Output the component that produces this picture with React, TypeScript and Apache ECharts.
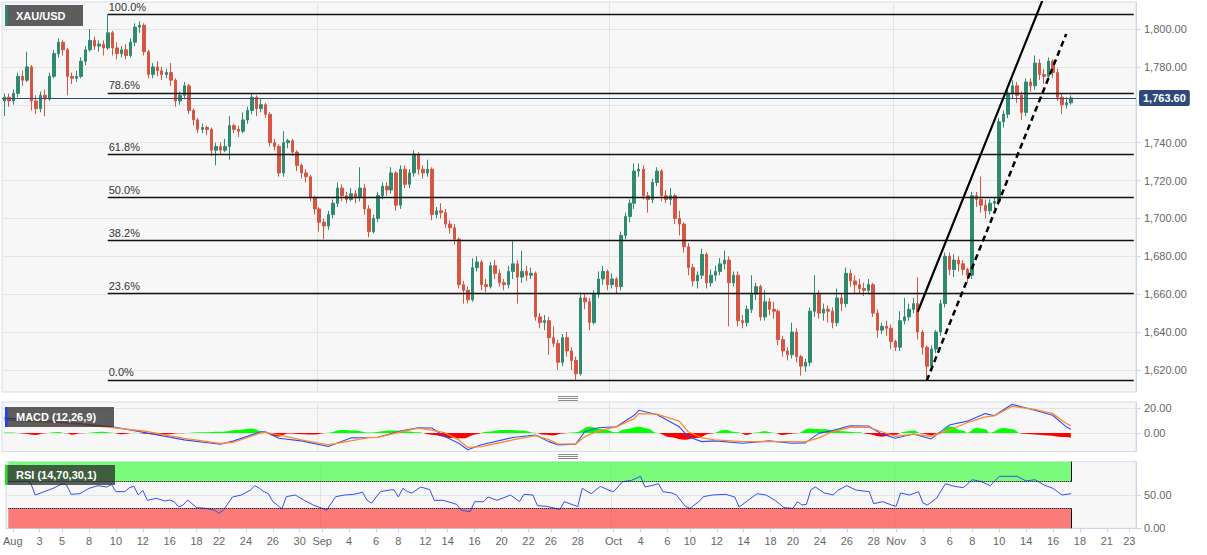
import React, { useEffect, useRef } from 'react';
import * as echarts from 'echarts';

const SLOT_COUNT = 252;

// [open, close, low, high] per slot
const candles = [
  [1762,1764,1754,1766],[1764,1762,1759,1766],[1762,1766,1760,1768],[1766,1775,1764,1777],
  [1775,1773,1770,1778],[1773,1780,1772,1788],[1780,1762,1757,1781],[1762,1758,1755,1765],
  [1758,1765,1756,1767],[1765,1763,1754,1768],[1763,1775,1762,1777],[1775,1787,1774,1789],
  [1787,1793,1785,1795],[1793,1789,1786,1794],[1789,1775,1765,1790],[1775,1774,1771,1777],
  [1774,1775,1772,1778],[1775,1783,1774,1785],[1783,1789,1781,1791],[1789,1794,1788,1800],
  [1794,1791,1789,1796],[1791,1792,1788,1794],[1792,1790,1786,1794],[1790,1798,1789,1807.6],
  [1798,1790,1786,1799],[1790,1787,1784,1793],[1787,1789,1785,1791],[1789,1786,1784,1792],
  [1786,1793,1785,1795],[1793,1801,1791,1803],[1801,1802,1798,1804],[1802,1788,1786,1803],
  [1788,1776,1774,1789],[1776,1780,1774,1782],[1780,1778,1775,1783],[1778,1776,1773,1780],
  [1776,1777,1774,1779],[1777,1773,1770,1782],[1773,1762,1759,1774],[1762,1765,1760,1767],
  [1765,1770,1763,1772],[1770,1757,1755,1771],[1757,1752,1749,1758],[1752,1747,1745,1753],
  [1747,1748,1745,1750],[1748,1747,1744,1749],[1747,1736,1733,1748],[1736,1738,1728,1740],
  [1738,1736,1734,1740],[1736,1738,1735,1742],[1738,1749,1731,1754],[1749,1747,1745,1750],
  [1747,1746,1743,1749],[1746,1752,1745,1756],[1752,1757,1750,1759],[1757,1764,1755,1766],
  [1764,1758,1754,1765],[1758,1760,1756,1763],[1760,1755,1753,1761],[1755,1740,1738,1756],
  [1740,1738,1736,1742],[1738,1724,1722,1739],[1724,1740,1722,1746],[1740,1741,1737,1742],
  [1741,1735,1733,1742],[1735,1728,1725,1736],[1728,1724,1721,1729],[1724,1722,1719,1726],
  [1722,1711,1709,1723],[1711,1705,1702,1712],[1705,1698,1693,1706],[1698,1696,1689,1700],
  [1696,1702,1694,1704],[1702,1708,1700,1710],[1708,1716,1706,1719],[1716,1712,1709,1718],
  [1712,1710,1708,1714],[1710,1713,1709,1716],[1713,1711,1708,1715],[1711,1716,1709,1727],
  [1716,1705,1702,1718],[1705,1693,1690,1707],[1693,1700,1692,1702],[1700,1712,1698,1714],
  [1712,1717,1710,1719],[1717,1715,1712,1719],[1715,1724,1713,1727],[1724,1707,1704,1725],
  [1707,1726,1705,1728],[1726,1718,1716,1728],[1718,1724,1716,1726],[1724,1734,1722,1736],
  [1734,1726,1723,1735],[1726,1724,1721,1728],[1724,1726,1722,1731],[1726,1702,1699,1727],
  [1702,1704,1700,1706],[1704,1703,1700,1708],[1703,1697,1695,1705],[1697,1695,1692,1699],
  [1695,1689,1686,1697],[1689,1665,1663,1690],[1665,1662,1655,1667],[1662,1657,1655,1664],
  [1657,1674,1656,1679],[1674,1677,1672,1680],[1677,1665,1662,1678],[1665,1664,1661,1668],
  [1664,1675,1663,1677],[1675,1671,1668,1678],[1671,1666,1664,1673],[1666,1665,1662,1668],
  [1665,1672,1663,1675],[1672,1676,1668,1688],[1676,1669,1655,1678],[1669,1672,1666,1683],
  [1672,1670,1667,1675],[1670,1671,1668,1674],[1671,1648,1646,1672],[1648,1645,1642,1650],
  [1645,1646,1641,1649],[1646,1637,1628,1648],[1637,1634,1632,1643],[1634,1624,1620,1636],
  [1624,1637,1622,1639],[1637,1630,1627,1640],[1630,1625,1620,1632],[1625,1618,1614.7,1627],
  [1618,1658,1617,1661],[1658,1656,1652,1660],[1656,1645,1641,1658],[1645,1660,1644,1662],
  [1660,1668,1658,1672],[1668,1672,1665,1675],[1672,1665,1662,1673],[1665,1668,1663,1671],
  [1668,1664,1660,1669],[1664,1691,1662,1693],[1691,1701,1689,1703],[1701,1708,1698,1710],
  [1708,1725,1705,1729],[1725,1726,1722,1729],[1726,1712,1710,1728],[1712,1710,1703,1714],
  [1710,1719,1708,1721],[1719,1725,1717,1727],[1725,1712,1709,1726],[1712,1710,1708,1715],
  [1710,1712,1707,1716],[1712,1700,1697,1713],[1700,1697,1691,1704],[1697,1685,1682,1698],
  [1685,1674,1670,1687],[1674,1667,1664,1676],[1667,1670,1663,1672],[1670,1681,1668,1684],
  [1681,1666,1663,1682],[1666,1670,1664,1673],[1670,1672,1667,1675],[1672,1676,1670,1679],
  [1676,1678,1673,1683],[1678,1666,1643,1680],[1666,1670,1664,1672],[1670,1646,1643,1672],
  [1646,1645,1642,1649],[1645,1652,1643,1654],[1652,1660,1650,1670],[1660,1664,1657,1666],
  [1664,1648,1646,1665],[1648,1656,1646,1662],[1656,1652,1649,1658],[1652,1651,1647,1656],
  [1651,1636,1633,1652],[1636,1630,1627,1638],[1630,1628,1625,1632],[1628,1640,1626,1645],
  [1640,1627,1624,1642],[1627,1622,1617,1628],[1622,1624,1619,1626],[1624,1651,1622,1653],
  [1651,1660,1648,1670],[1660,1650,1647,1662],[1650,1652,1646,1655],[1652,1651,1645,1654],
  [1651,1645,1642,1653],[1645,1658,1643,1663],[1658,1655,1651,1660],[1655,1671,1653,1674],
  [1671,1667,1664,1673],[1667,1665,1660,1670],[1665,1663,1660,1668],[1663,1662,1659,1666],
  [1662,1665,1660,1668],[1665,1650,1648,1666],[1650,1641,1637,1652],[1641,1643,1639,1645],
  [1643,1642,1638,1646],[1642,1635,1631,1644],[1635,1632,1630,1636],[1632,1646,1630,1651],
  [1646,1648,1644,1658],[1648,1652,1646,1655],[1652,1655,1650,1658],[1655,1640,1636,1669],
  [1640,1632,1628,1641],[1632,1622,1616,1633],[1622,1631,1619,1633],[1631,1640,1629,1641],
  [1640,1655,1638,1657],[1655,1680,1653,1682],[1680,1673,1670,1682],[1673,1678,1669,1681],
  [1678,1676,1672,1680],[1676,1673,1670,1678],[1673,1670,1666,1674],[1670,1712,1668,1714],
  [1712,1710,1706,1714],[1710,1707,1703,1722],[1707,1704,1700,1710],[1704,1708,1702,1710],
  [1708,1709,1705,1711],[1709,1751,1707,1753],[1751,1755,1748,1757],[1755,1766,1753,1768],
  [1766,1770,1763,1773],[1770,1765,1761,1772],[1765,1756,1752,1767],[1756,1772,1754,1774],
  [1772,1770,1767,1774],[1770,1782,1768,1786],[1782,1776,1773,1784],[1776,1775,1771,1779],
  [1775,1783,1773,1785],[1783,1777,1774,1784],[1777,1764,1762,1779],[1764,1760,1755,1766],
  [1760,1761,1758,1764],[1761,1763.6,1760,1765]
];

// [slot, value]
const macdLine = [[0,12],[12,9],[24,5],[31,0.5],[40,-5.6],[48,-9.1],[51,-6.4],[57,1],[58,1],[61,-4.3],[66,-6.4],[72,-11],[77,-4],[81,-3.7],[83,-3.5],[88,1.6],[92,4.3],[95,4],[98,-3],[101,-8.3],[103,-13.6],[106,-9.6],[113,-3.7],[118,-1.6],[121,-7],[123,-9.6],[127,-9],[129,1],[132,4.3],[136,5],[140,14.4],[141,18.4],[145,15],[150,5],[152,-3],[155,-7],[158,-6.4],[164,-8.3],[170,-6.4],[175,-8.3],[178,-8],[181,-0.3],[184,1.9],[188,5.9],[192,5.6],[195,-0.8],[198,-4.3],[202,-0.8],[206,-4.8],[210,6.4],[214,9.6],[218,15.7],[220,13.9],[223,21],[224,23.2],[229,18.4],[233,14.4],[236,5],[237,3]];

const signalLine = [[0,10.4],[12,8.5],[24,4.3],[31,1.6],[40,-4.3],[48,-8.5],[51,-7.5],[57,0],[58,0.5],[61,-1.6],[66,-5.6],[72,-9.6],[77,-6.4],[81,-3.7],[83,-3.5],[88,0.8],[92,4],[95,2.4],[98,0],[101,-5.6],[103,-11.7],[106,-11],[113,-5.6],[118,-2.1],[121,-5.4],[123,-8.8],[127,-9],[129,-3],[132,1.6],[136,5],[140,11.7],[141,15.7],[145,15.2],[150,9.6],[152,1],[155,-4],[158,-5.6],[164,-7],[170,-7],[175,-7],[178,-7.2],[181,-4],[184,1],[188,4.5],[192,4.8],[195,1],[198,-2.7],[202,-1],[206,-2.7],[210,2.4],[214,8.3],[218,13],[220,13.9],[223,19.7],[224,21.6],[229,19.2],[233,15.7],[236,7.7],[237,5.9]];

const macdHist = [[0,0.3],[2,0.3],[4,-0.5],[7,-1.6],[9,-0.2],[12,0.8],[14,-0.3],[15,-1.5],[17,-0.2],[22,1],[24,0.2],[26,-1],[29,0.2],[32,-0.8],[35,-1.6],[39,-0.3],[44,0.5],[48,1],[52,2.5],[55,3.7],[58,0.3],[60,-2.5],[61,-3],[63,-0.5],[66,-1],[69,-1.2],[72,0.2],[75,2.4],[78,2],[81,0.3],[86,2],[89,1.5],[92,0.5],[95,-1.5],[99,-4],[102,-4.3],[105,-1],[107,1],[111,2.4],[115,2],[118,0.2],[120,-1.5],[122,-2],[124,-0.5],[127,0.5],[130,5],[133,3],[136,0.5],[138,3],[141,5],[143,3.5],[145,0.2],[148,-3.5],[151,-5.5],[154,-4],[157,-0.5],[160,2.4],[163,0.5],[165,-1.6],[167,0.3],[169,1.5],[171,0.2],[173,-1.6],[176,-0.3],[179,3.7],[182,3],[186,1.5],[190,0.5],[192,-1],[195,-3],[198,-1.5],[200,1],[202,2],[204,-0.5],[206,-2],[208,0.5],[210,5.5],[213,2],[214,0.2],[216,4],[218,3],[219,0.2],[222,4],[224,3],[226,-0.5],[229,-1.2],[232,-2],[235,-3.2],[237,-3.8]];

const rsiLine = [[0,70],[2,70],[4,71],[5,68],[6,50],[8,55],[10,60],[12,67],[13,65],[14,51],[16,52],[18,60],[20,64],[22,62],[23,66],[24,55],[26,55],[27,61],[28,63],[29,50],[30,57],[31,42],[33,45],[35,41],[36,42.5],[37,40],[38,32],[39,35],[40,42.5],[42,31],[44,30],[46,27],[47,22.5],[48,27.5],[50,47],[52,50],[54,57.5],[55,64],[56,60],[57,55],[58,52],[59,40],[60,35],[61,29],[62,47.5],[64,50],[66,42],[68,35],[70,30],[71,27],[73,47.5],[75,50],[77,51],[79,54],[80,42],[81,38],[83,55],[85,57.5],[86,58],[87,47],[88,60],[89,55],[90,53],[92,62],[94,58],[95,42],[97,42],[99,38],[100,36],[101,27],[103,25],[104,40],[106,40],[107,47],[109,42],[112,50],[114,40],[115,51],[117,50],[118,34],[120,33],[122,30],[123,28],[124,40],[126,35],[127,32.5],[128,60],[130,52],[132,63],[134,57],[135,55],[137,70],[139,72],[141,78],[142,62],[144,65],[145,67],[146,55],[148,53],[149,50],[151,33],[152,30],[154,40],[155,47.5],[157,50],[160,51],[162,47],[163,32],[165,42],[167,52],[169,50],[171,42],[173,31],[175,30],[176,40],[177,35],[178,36],[179,58],[180,62],[182,53],[184,50],[185,57],[187,64],[189,57.5],[192,55],[193,37],[195,40],[197,35],[198,33],[199,53],[201,50],[203,55],[204,38],[205,35],[207,45],[209,67],[211,63],[213,61],[215,73],[217,70],[219,64],[221,78],[223,78],[225,78],[227,71],[229,73],[231,65],[233,60],[235,50],[237,52]];

const priceTicks = [1620, 1640, 1660, 1680, 1700, 1720, 1740, 1760, 1780, 1800];
// the 1,760 label sits behind the last-price tag in the reference
const priceLabelTicks = [1620, 1640, 1660, 1680, 1700, 1720, 1740, 1780, 1800];
const macdTicks = [0, 20];
const rsiTicks = [0, 50];

const tickLabels = ['Aug','3','5','8','10','12','16','18','22','24','26','30','Sep','4','6','8','12','14','16','20','22','26','28','Oct','4','6','10','12','14','18','20','24','26','28','Nov','3','6','8','10','14','16','18','21','23'];
const tickSlots = [1,7,12,18,24,30,36,42,47,53,59,65,70,76,82,87,93,98,104,110,116,121,127,135,141,147,152,158,164,170,175,181,187,193,198,204,210,215,221,227,233,239,245,250];
const monthSlots = [70, 135, 198];

const fibHigh = 1807.6;
const fibLow = 1614.7;
const fibRatios = [1, 0.786, 0.618, 0.5, 0.382, 0.236, 0];
const fibLabels = ['100.0%', '78.6%', '61.8%', '50.0%', '38.2%', '23.6%', '0.0%'];
const fibStartSlot = 23;

const lastPrice = 1763.6;
const solidTrend = [[203, 1650.7], [235, 1840.6]];
const dashedTrend = [[205, 1614.4], [236, 1797.4]];
const rsiUpper = 70;
const rsiLower = 30;
const bandEndSlot = 237;

const PRICE_MIN = 1608.34, PRICE_MAX = 1814.26;
const MACD_MIN = -15, MACD_MAX = 25.1;
const MACD_TOP = 402, MACD_H = 49.5;

const FONT = '"Liberation Sans", Arial, sans-serif';
const fmt2 = (v: number) => v.toLocaleString('en-US', { minimumFractionDigits: 2, maximumFractionDigits: 2 });

export default function App() {
  const ref = useRef<HTMLDivElement>(null);
  useEffect(() => {
    if (!ref.current) return;
    const chart = echarts.init(ref.current, null, { renderer: 'svg' });
    const slots = Array.from({ length: SLOT_COUNT }, (_, i) => String(i));
    const labelMap = new Map<number, string>(tickSlots.map((s, i) => [s, tickLabels[i]]));
    const monthSet = new Set(monthSlots);
    const gridStyle = { show: true, backgroundColor: '#f7f7f7', borderColor: '#d5dbe7', borderWidth: 1, left: 2, right: 71 };
    const hiddenX = (gi: number) => ({
      type: 'category', gridIndex: gi, data: slots, boundaryGap: true,
      axisLine: { show: false }, axisTick: { show: false }, axisLabel: { show: false },
      splitLine: { show: true, interval: (i: number) => monthSet.has(i), lineStyle: { color: '#e4e4e4' } },
    });
    const yBase = (gi: number, min: number, max: number, ticks: number[], labelTicks: number[]) => ({
      type: 'value', gridIndex: gi, position: 'right', min, max, scale: true,
      axisLine: { show: true, lineStyle: { color: '#ccd6eb' } },
      axisTick: { show: true, length: 5, lineStyle: { color: '#ccd6eb' }, customValues: ticks },
      axisLabel: { customValues: labelTicks, formatter: (v: number) => fmt2(v), color: '#666', fontSize: 11, margin: 8, fontFamily: FONT },
      splitLine: { show: true, lineStyle: { color: '#e4e4e4' } },
    });

    const fibData: any[] = fibRatios.map((r, k) => {
      const p = fibLow + (fibHigh - fibLow) * r;
      return [
        { coord: [fibStartSlot, p], lineStyle: { color: '#111', width: 1.3, type: 'solid' },
          label: { show: true, position: 'insideStartTop', formatter: fibLabels[k], color: '#333', fontSize: 11, fontFamily: FONT, distance: [1, 2] } },
        { coord: [SLOT_COUNT - 1, p] },
      ];
    });
    fibData.push({
      yAxis: lastPrice,
      lineStyle: { color: '#2d4a7a', width: 1, type: 'solid' },
      label: { show: true, position: 'end', formatter: fmt2(lastPrice), color: '#fff', backgroundColor: '#2d4a7a',
        padding: [3, 4, 2, 4], fontSize: 11, fontWeight: 'bold', fontFamily: FONT, distance: 3, borderRadius: 2 },
    });

    // fill colour split at the MACD zero line (green above, red below)
    const zeroOff = MACD_MAX / (MACD_MAX - MACD_MIN);
    const histFill = {
      type: 'linear', x: 0, y: MACD_TOP, x2: 0, y2: MACD_TOP + MACD_H, global: true,
      colorStops: [
        { offset: 0, color: '#00ff00' }, { offset: zeroOff, color: '#00ff00' },
        { offset: zeroOff, color: '#ff0000' }, { offset: 1, color: '#ff0000' },
      ],
    };

    const box = (y: number, h: number, w: number, stripe: string, text: string) => [
      { type: 'rect', z: 100, shape: { x: 6, y, width: w, height: h }, style: { fill: 'rgba(45,45,45,0.76)' } },
      { type: 'rect', z: 101, shape: { x: 5, y, width: 2.5, height: h }, style: { fill: stripe } },
      { type: 'text', z: 101, x: 16, y: y + h / 2, style: { text, fill: '#fff', fontSize: 11, fontWeight: 'bold', fontFamily: FONT, verticalAlign: 'middle' } },
    ];
    const grip = (y0: number) => [0, 2, 4].map((d) => ({
      type: 'line', z: 100, shape: { x1: 558, y1: y0 + d, x2: 578, y2: y0 + d }, style: { stroke: '#8a8a8a', lineWidth: 1 },
    }));

    const option: any = {
      animation: false,
      textStyle: { fontFamily: FONT },
      grid: [
        { ...gridStyle, top: 2, height: 390 },
        { ...gridStyle, top: MACD_TOP, height: MACD_H },
        { ...gridStyle, top: 461.7, height: 66.6 },
      ],
      xAxis: [
        hiddenX(0),
        hiddenX(1),
        {
          type: 'category', gridIndex: 2, data: slots, boundaryGap: true,
          axisLine: { show: true, lineStyle: { color: '#ccd6eb' } },
          axisTick: { show: true, alignWithLabel: true, interval: (i: number) => labelMap.has(i), length: 4, lineStyle: { color: '#ccd6eb' } },
          axisLabel: { interval: (i: number) => labelMap.has(i), formatter: (_v: string, i: number) => labelMap.get(i) || '', color: '#666', fontSize: 11, margin: 7, fontFamily: FONT },
          splitLine: { show: true, interval: (i: number) => monthSet.has(i), lineStyle: { color: '#e4e4e4' } },
        },
      ],
      yAxis: [
        yBase(0, PRICE_MIN, PRICE_MAX, priceTicks, priceLabelTicks),
        yBase(1, MACD_MIN, MACD_MAX, macdTicks, macdTicks),
        yBase(2, 0, 100, rsiTicks, rsiTicks),
      ],
      series: [
        {
          type: 'candlestick', xAxisIndex: 0, yAxisIndex: 0, data: candles, barWidth: 3,
          itemStyle: { color: '#2e8b72', color0: '#d65642', borderColor: '#2e8b72', borderColor0: '#d65642', borderWidth: 1 },
          markLine: { silent: true, symbol: ['none', 'none'], label: { show: false }, lineStyle: { type: 'solid', color: '#111', width: 1.3 }, data: fibData },
        },
        { type: 'line', xAxisIndex: 0, yAxisIndex: 0, data: solidTrend, symbol: 'none', lineStyle: { color: '#000', width: 2.2 }, z: 6 },
        { type: 'line', xAxisIndex: 0, yAxisIndex: 0, data: dashedTrend, symbol: 'none', lineStyle: { color: '#000', width: 2.5, type: [6, 4] }, z: 6 },
        { type: 'line', xAxisIndex: 1, yAxisIndex: 1, data: macdHist, symbol: 'none', smooth: 0.4, smoothMonotone: 'x', lineStyle: { width: 0 }, areaStyle: { opacity: 1, color: histFill } },
        { type: 'line', xAxisIndex: 1, yAxisIndex: 1, data: macdLine, symbol: 'none', lineStyle: { color: '#2f4dff', width: 1.1 } },
        { type: 'line', xAxisIndex: 1, yAxisIndex: 1, data: signalLine, symbol: 'none', lineStyle: { color: '#ff8a2a', width: 1.3 } },
        {
          type: 'line', xAxisIndex: 2, yAxisIndex: 2, data: rsiLine, symbol: 'none', lineStyle: { color: '#3150f0', width: 1 },
          markArea: {
            silent: true,
            data: [
              [{ coord: [0, rsiUpper], itemStyle: { color: 'rgba(0,255,0,0.5)' } }, { coord: [bandEndSlot, 100] }],
              [{ coord: [0, 0], itemStyle: { color: 'rgba(255,0,0,0.5)' } }, { coord: [bandEndSlot, rsiLower] }],
            ],
          },
          markLine: {
            silent: true, symbol: ['none', 'none'], label: { show: false }, lineStyle: { color: '#000', width: 1, type: 'solid' },
            data: [
              [{ coord: [0, rsiUpper], lineStyle: { type: 'dotted' } }, { coord: [bandEndSlot, rsiUpper] }],
              [{ coord: [0, rsiLower], lineStyle: { type: 'dotted' } }, { coord: [bandEndSlot, rsiLower] }],
              [{ coord: [bandEndSlot, rsiUpper] }, { coord: [bandEndSlot, 100] }],
              [{ coord: [bandEndSlot, 0] }, { coord: [bandEndSlot, rsiLower] }],
            ],
          },
        },
      ],
      graphic: [
        ...box(5, 21, 77, '#2e8b72', 'XAU/USD'),
        ...box(407, 20, 108, '#1f3fff', 'MACD (12,26,9)'),
        ...box(465, 20, 109, '#22e022', 'RSI (14,70,30,1)'),
        ...grip(396.5),
        ...grip(454.5),
      ],
    };
    chart.setOption(option);
    return () => chart.dispose();
  }, []);
  return <div ref={ref} style={{ position: 'fixed', left: 0, top: 0, width: 1207, height: 555, background: '#fff' }} />;
}
